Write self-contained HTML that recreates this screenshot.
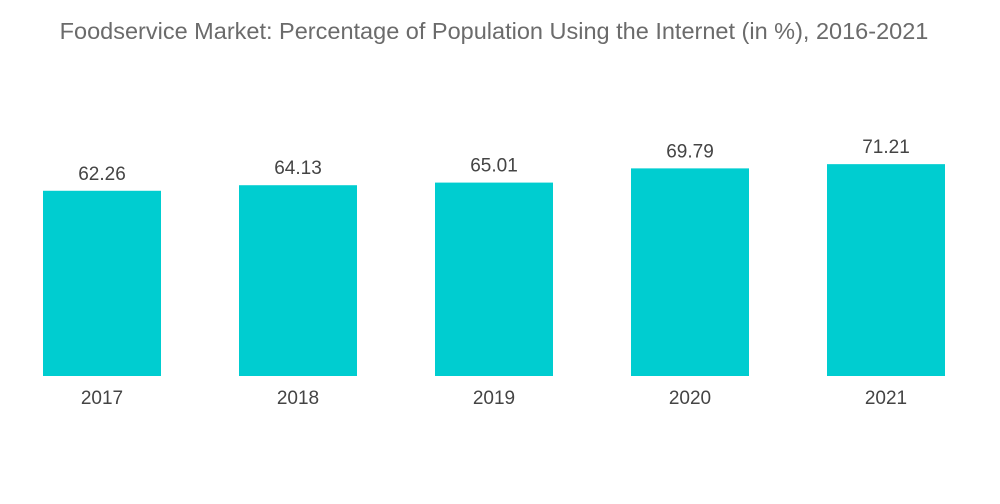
<!DOCTYPE html>
<html><head><meta charset="utf-8"><style>
body{margin:0;background:#fff;}
svg{display:block;font-family:"Liberation Sans",sans-serif;}
</style></head><body>
<svg id="chart" width="1000" height="504">
<text x="494" y="39" text-anchor="middle" font-size="23.5" fill="#6b6b6b">Foodservice Market: Percentage of Population Using the Internet (in %), 2016-2021</text>
<g id="bars"></g>
</svg>
<script>
const categories=["2017","2018","2019","2020","2021"];
const values=[62.26,64.13,65.01,69.79,71.21];
const labels=["62.26","64.13","65.01","69.79","71.21"];
const baseY=376, scale=2.975, x0=43, step=196, bw=118;
function xPos(i){return x0+i*step;}
function yPos(v){return baseY-v*scale;}
const g=document.getElementById('bars');
const ns="http://www.w3.org/2000/svg";
categories.forEach((c,i)=>{
  const r=document.createElementNS(ns,'rect');
  r.setAttribute('x',xPos(i));r.setAttribute('y',yPos(values[i]));
  r.setAttribute('width',bw);r.setAttribute('height',baseY-yPos(values[i]));
  r.setAttribute('fill','#00cdd0');
  
  
  g.appendChild(r);
  const t=document.createElementNS(ns,'text');
  t.setAttribute('x',xPos(i)+bw/2);t.setAttribute('y',yPos(values[i])-11);
  t.setAttribute('text-anchor','middle');t.setAttribute('font-size','19');t.setAttribute('fill','#444');
  t.textContent=labels[i];
  
  
  g.appendChild(t);
  const a=document.createElementNS(ns,'text');
  a.setAttribute('x',xPos(i)+bw/2);a.setAttribute('y',404);
  a.setAttribute('text-anchor','middle');a.setAttribute('font-size','19');a.setAttribute('fill','#444');
  a.textContent=c;
  
  
  g.appendChild(a);
});
</script>
</body></html>
